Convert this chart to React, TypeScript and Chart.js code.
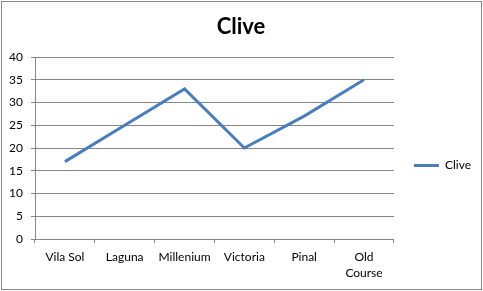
import React, { useEffect, useRef } from 'react';
import { Chart, registerables } from 'chart.js';

Chart.register(...registerables);

const categories: (string | string[])[] = ['Vila Sol', 'Laguna', 'Millenium', 'Victoria', 'Pinal', ['Old', 'Course']];
const cliveValues = [17, 25, 33, 20, 27, 35];
const yMin = 0;
const yMax = 40;
const yStep = 5;

const FONT = 'Lato, "Open Sans", sans-serif';
const GRAY = '#868686';

const borderPlugin = {
  id: 'outerBorder',
  afterDraw(chart: any) {
    const ctx = chart.ctx;
    ctx.save();
    ctx.strokeStyle = GRAY;
    ctx.lineWidth = 1;
    ctx.strokeRect(1.5, 1.5, 480, 288);
    ctx.restore();
  },
};

const legendShiftPlugin = {
  id: 'legendShift',
  afterLayout(chart: any) {
    const l = chart.legend;
    if (l) {
      l.top += 20;
      l.bottom += 20;
    }
  },
};

export default function App() {
  const ref = useRef<HTMLCanvasElement | null>(null);

  useEffect(() => {
    if (!ref.current) return;
    const chart = new Chart(ref.current, {
      type: 'line',
      data: {
        labels: categories,
        datasets: [
          {
            label: 'Clive',
            data: cliveValues,
            borderColor: '#4A7EBB',
            backgroundColor: '#4A7EBB',
            borderWidth: 3,
            pointRadius: 0,
            pointHoverRadius: 0,
            tension: 0,
            fill: false,
          },
        ],
      },
      options: {
        responsive: false,
        animation: false,
        layout: { padding: { left: 1, right: 2, top: 0, bottom: 0 } },
        plugins: {
          title: {
            display: true,
            text: 'Clive',
            color: '#000',
            font: { family: FONT, size: 22, weight: 'bold' },
            padding: { top: 14, bottom: 16.6 },
          },
          legend: {
            display: true,
            position: 'right',
            labels: {
              usePointStyle: true,
              pointStyle: 'line',
              pointStyleWidth: 25,
              padding: 20,
              color: '#000',
              font: { family: FONT, size: 12 },
            },
          },
          tooltip: { enabled: false },
        },
        scales: {
          x: {
            offset: true,
            grid: {
              display: true,
              drawOnChartArea: false,
              drawTicks: true,
              tickLength: 4,
              color: GRAY,
              offset: true,
            },
            border: { display: true, color: GRAY },
            ticks: {
              color: '#000',
              font: { family: FONT, size: 12, lineHeight: 1.33 },
              padding: 6,
              maxRotation: 0,
              autoSkip: false,
            },
            afterFit(scale: any) {
              scale.height = 52;
            },
          },
          y: {
            min: yMin,
            max: yMax,
            grid: {
              display: true,
              drawTicks: true,
              tickLength: 4,
              color: GRAY,
            },
            border: { display: true, color: GRAY },
            ticks: {
              stepSize: yStep,
              color: '#000',
              font: { family: FONT, size: 12 },
              padding: 8,
            },
            afterFit(scale: any) {
              scale.width = 34;
            },
          },
        },
      },
      plugins: [borderPlugin, legendShiftPlugin],
    } as any);
    return () => chart.destroy();
  }, []);

  return (
    <div style={{ position: 'absolute', left: 0, top: 0, width: 483, height: 291, background: '#fff' }}>
      <canvas ref={ref} width={483} height={291} />
    </div>
  );
}
